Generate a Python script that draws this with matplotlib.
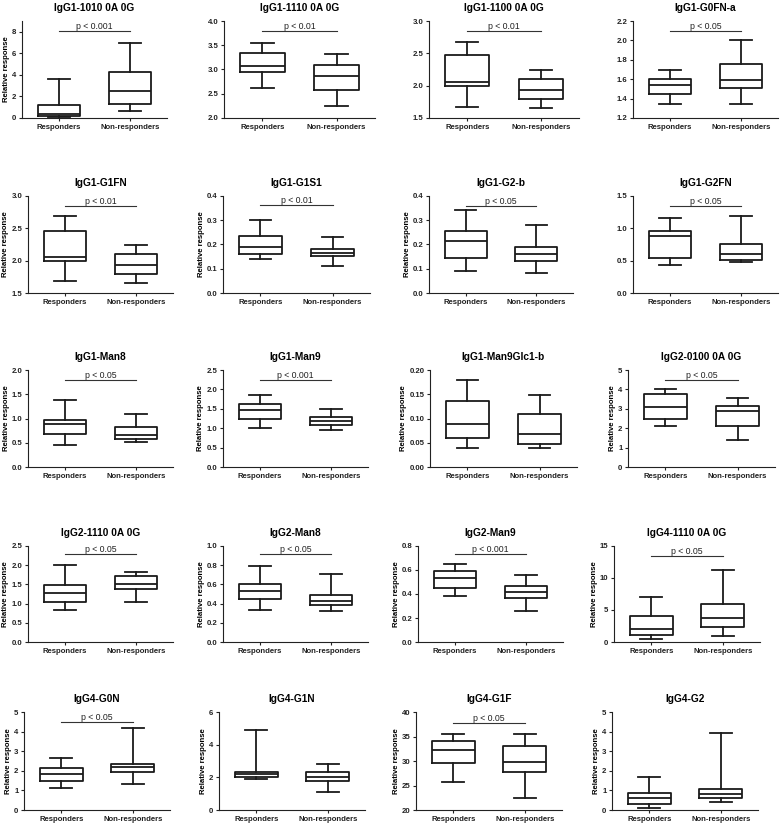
import matplotlib.pyplot as plt

plt.rcParams["font.family"] = ["Liberation Sans", "DejaVu Sans"]

W, H = 781, 830

groups = ["Responders", "Non-responders"]

titles = [
    "IgG1-1010 0A 0G", "IgG1-1110 0A 0G", "IgG1-1100 0A 0G", "IgG1-G0FN-a",
    "IgG1-G1FN", "IgG1-G1S1", "IgG1-G2-b", "IgG1-G2FN",
    "IgG1-Man8", "IgG1-Man9", "IgG1-Man9Glc1-b", "IgG2-0100 0A 0G",
    "IgG2-1110 0A 0G", "IgG2-Man8", "IgG2-Man9", "IgG4-1110 0A 0G",
    "IgG4-G0N", "IgG4-G1N", "IgG4-G1F", "IgG4-G2",
]

# whisker low, q1, median, q3, whisker high
resp = [
    (0.05, 0.15, 0.35, 1.2, 3.65), (2.61, 2.94, 3.08, 3.33, 3.55),
    (1.675, 2.0, 2.06, 2.47, 2.68), (1.34, 1.444, 1.537, 1.60, 1.698),
    (1.68, 2.0, 2.06, 2.464, 2.686), (0.14, 0.161, 0.19, 0.236, 0.30),
    (0.089, 0.143, 0.213, 0.257, 0.341), (0.438, 0.536, 0.876, 0.954, 1.155),
    (0.462, 0.676, 0.89, 0.959, 1.386), (1.01, 1.24, 1.473, 1.635, 1.866),
    (0.040, 0.0595, 0.089, 0.137, 0.179), (2.11, 2.48, 3.10, 3.75, 4.0),
    (0.83, 1.05, 1.27, 1.48, 2.0), (0.33, 0.45, 0.53, 0.60, 0.79),
    (0.38, 0.45, 0.53, 0.59, 0.65), (0.4, 1.1, 2.0, 4.1, 7.1),
    (1.1, 1.5, 1.85, 2.15, 2.65), (1.9, 2.05, 2.2, 2.35, 4.9),
    (25.8, 29.5, 32.3, 34.0, 35.5), (0.1, 0.3, 0.6, 0.85, 1.7),
]
nonresp = [
    (0.69, 1.31, 2.53, 4.25, 6.94), (2.255, 2.57, 2.87, 3.10, 3.32),
    (1.65, 1.79, 1.93, 2.11, 2.245), (1.34, 1.509, 1.595, 1.753, 2.007),
    (1.65, 1.79, 1.93, 2.11, 2.247), (0.11, 0.152, 0.167, 0.181, 0.232),
    (0.081, 0.131, 0.161, 0.191, 0.279), (0.474, 0.51, 0.608, 0.758, 1.186),
    (0.51, 0.579, 0.662, 0.83, 1.10), (0.96, 1.08, 1.19, 1.30, 1.50),
    (0.040, 0.047, 0.069, 0.109, 0.149), (1.37, 2.11, 2.91, 3.13, 3.56),
    (1.05, 1.38, 1.51, 1.72, 1.82), (0.32, 0.39, 0.43, 0.49, 0.71),
    (0.26, 0.37, 0.42, 0.47, 0.56), (0.9, 2.3, 3.8, 6.0, 11.2),
    (1.35, 1.95, 2.2, 2.35, 4.2), (1.1, 1.8, 2.05, 2.3, 2.8),
    (22.5, 27.7, 29.8, 33.0, 35.5), (0.4, 0.6, 0.8, 1.05, 3.95),
]

p_text = [
    "p < 0.001", "p < 0.01", "p < 0.01", "p < 0.05",
    "p < 0.01", "p < 0.01", "p < 0.05", "p < 0.05",
    "p < 0.05", "p < 0.001", None, "p < 0.05",
    "p < 0.05", "p < 0.05", "p < 0.001", "p < 0.05",
    "p < 0.05", None, "p < 0.05", None,
]
p_y = [
    8.1, 3.79, 2.85, 2.10, 2.85, 0.361, 0.36, 1.35, 1.8, 2.24, None, 4.47,
    2.3, 0.92, 0.73, 13.5, 4.5, None, 37.8, None,
]

y_lim = [
    (0, 9), (2.0, 4.0), (1.5, 3.0), (1.2, 2.2),
    (1.5, 3.0), (0, 0.4), (0, 0.4), (0, 1.5),
    (0, 2.0), (0, 2.5), (0, 0.20), (0, 5),
    (0, 2.5), (0, 1.0), (0, 0.8), (0, 15),
    (0, 5), (0, 6), (20, 40), (0, 5),
]
y_step = [
    2, 0.5, 0.5, 0.2, 0.5, 0.1, 0.1, 0.5, 0.5, 0.5, 0.05, 1,
    0.5, 0.2, 0.2, 5, 1, 2, 5, 1,
]
y_dec = [0, 1, 1, 1, 1, 1, 1, 1, 1, 1, 2, 0, 1, 1, 1, 0, 0, 0, 0, 0]
has_ylabel = [
    True, False, False, False,
    True, True, True, False,
    True, True, True, True,
    True, True, True, True,
    True, True, True, True,
]

# layout in pixels
x_span = [
    (22, 167), (224, 375), (429, 579), (633, 778),
    (28, 173), (223, 370), (429, 573), (633, 778),
    (28, 173), (223, 368), (430, 577), (628, 775),
    (28, 173), (223, 368), (418, 563), (614, 760),
    (24, 170), (219, 365), (416, 562), (612, 758),
]
row_span = [(21, 118), (196, 293), (370, 467), (546, 642), (712, 810)]

fig = plt.figure(figsize=(W / 100, H / 100), dpi=100)
lc = "#1a1a1a"

for i, title in enumerate(titles):
    l, r = x_span[i]
    t, b = row_span[i // 4]
    ax = fig.add_axes([l / W, 1 - b / H, (r - l) / W, (b - t) / H])

    stats = []
    for vals in (resp[i], nonresp[i]):
        lo, q1, med, q3, hi = vals
        stats.append(dict(whislo=lo, q1=q1, med=med, q3=q3, whishi=hi, fliers=[]))
    ax.bxp(
        stats,
        positions=[1, 2],
        widths=0.6,
        showfliers=False,
        boxprops=dict(color=lc, linewidth=1.3),
        whiskerprops=dict(color=lc, linewidth=1.3),
        capprops=dict(color=lc, linewidth=1.3),
        medianprops=dict(color=lc, linewidth=1.3),
    )

    if p_text[i]:
        ax.plot([1, 2], [p_y[i], p_y[i]], color="#333333", linewidth=0.8)
        ax.text(1.5, p_y[i], p_text[i], ha="center", va="bottom", fontsize=6.3,
                color="#222222")

    lo, hi = y_lim[i]
    ax.set_xlim(0.48, 2.52)
    ax.set_ylim(lo, hi)
    n = int(round((hi - lo) / y_step[i]))
    if i == 0:
        n = 4
    ticks = [lo + k * y_step[i] for k in range(n + 1)]
    ax.set_yticks(ticks)
    ax.set_yticklabels([f"{v:.{y_dec[i]}f}" for v in ticks])
    ax.set_xticks([1, 2])
    ax.set_xticklabels(groups)
    for lab in ax.get_xticklabels() + ax.get_yticklabels():
        lab.set_fontweight("bold")
    ax.tick_params(axis="both", labelsize=5.6, length=2.5, width=0.8, pad=1.5,
                   colors="#222222")
    ax.tick_params(axis="x", length=2, pad=2.5)

    for s in ("top", "right"):
        ax.spines[s].set_visible(False)
    for s in ("left", "bottom"):
        ax.spines[s].set_linewidth(0.8)
        ax.spines[s].set_color("#222222")

    ax.set_title(title, fontsize=7.3, fontweight="bold", pad=7)
    if has_ylabel[i]:
        ax.set_ylabel("Relative response", fontsize=5.6, fontweight="bold", labelpad=1.5)

fig.savefig("out.png", dpi=100)
